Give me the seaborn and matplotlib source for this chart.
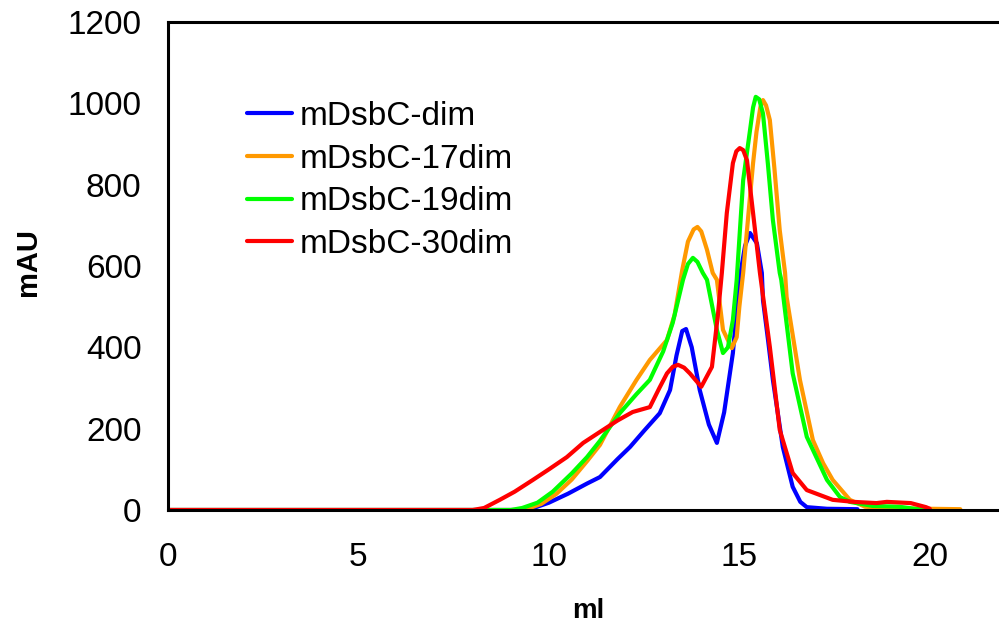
import matplotlib
matplotlib.use("Agg")
import matplotlib.pyplot as plt
import seaborn as sns
import pandas as pd

# ---- data ----
dim_x = [0, 9.3, 9.6, 10.0, 10.5, 11.0, 11.34, 11.8, 12.13, 12.5, 12.91, 13.18, 13.35, 13.5, 13.6, 13.75,
         13.96, 14.2, 14.41, 14.6, 14.83, 15.0, 15.15, 15.28, 15.46, 15.59, 15.62, 15.75, 15.88,
         16.14, 16.4, 16.6, 16.77, 17.3, 18.1]
dim_y = [0, 0, 5, 18, 40, 65, 81, 125, 155, 195, 238, 295, 380, 440, 445, 400,
         295, 210, 165, 240, 386, 566, 650, 681, 656, 583, 516, 420, 320,
         155, 57, 20, 7, 3, 2]

d17_x = [0, 9.2, 9.5, 9.8, 10.2, 10.6, 11.0, 11.34, 11.86, 12.3, 12.65, 13.1, 13.3, 13.5, 13.65, 13.8,
         13.9, 14.0, 14.15, 14.3, 14.41, 14.57, 14.8, 14.93, 15.0, 15.1, 15.25, 15.36, 15.45, 15.55,
         15.62, 15.7, 15.8, 15.92, 16.06, 16.2, 16.24, 16.59, 16.93, 17.2, 17.45, 17.9, 18.3, 19.0,
         20.0, 20.8]
d17_y = [0, 0, 5, 15, 40, 75, 120, 160, 253, 320, 369, 418, 480, 590, 660, 690,
         696, 685, 640, 583, 566, 443, 398, 425, 500, 583, 740, 853, 930, 990,
         1008, 995, 959, 840, 688, 583, 524, 320, 172, 115, 74, 25, 8, 4,
         3, 2]

d19_x = [0, 9.0, 9.3, 9.7, 10.1, 10.6, 11.0, 11.34, 11.86, 12.3, 12.65, 13.0, 13.25, 13.52, 13.65,
         13.78, 13.9, 14.04, 14.15, 14.41, 14.57, 14.7, 14.83, 14.93, 15.1, 15.28, 15.36, 15.43,
         15.52, 15.62, 15.75, 15.88, 16.06, 16.1, 16.4, 16.77, 17.3, 17.64, 17.9, 18.5, 19.2,
         19.6, 20.0]
d19_y = [0, 0, 5, 18, 45, 90, 130, 170, 238, 285, 320, 390, 460, 566, 605,
         620, 610, 583, 566, 443, 386, 400, 467, 566, 811, 934, 990, 1016,
         1010, 975, 850, 713, 583, 566, 336, 180, 74, 32, 20, 10, 8,
         3, 0]

d30_x = [0, 8.0, 8.3, 8.71, 9.1, 9.58, 10.0, 10.47, 10.9, 11.34, 11.8, 12.2, 12.65, 12.9, 13.1, 13.25,
         13.39, 13.55, 13.7, 14.0, 14.28, 14.44, 14.54, 14.67, 14.83, 14.92, 15.01, 15.1, 15.2,
         15.36, 15.54, 15.8, 16.06, 16.4, 16.77, 17.45, 18.0, 18.6, 18.87, 19.5, 19.9, 20.0]
d30_y = [0, 0, 5, 25, 45, 74, 100, 130, 165, 192, 220, 241, 253, 300, 336, 352,
         357, 350, 336, 303, 352, 483, 583, 730, 853, 882, 890, 885, 860,
         730, 583, 401, 197, 91, 49, 25, 20, 17, 20, 17, 7, 3]

series_names = ["mDsbC-dim", "mDsbC-17dim", "mDsbC-19dim", "mDsbC-30dim"]
colors = ["#0000FF", "#FF9900", "#00FF00", "#FF0000"]
x_ticks = [0, 5, 10, 15, 20]
y_ticks = [0, 200, 400, 600, 800, 1000, 1200]

frames = []
for name, xs, ys in zip(series_names, [dim_x, d17_x, d19_x, d30_x], [dim_y, d17_y, d19_y, d30_y]):
    frames.append(pd.DataFrame({"ml": xs, "mAU": ys, "series": name}))
df = pd.concat(frames, ignore_index=True)

sns.set_style("white")
plt.rcParams["font.family"] = ["Liberation Sans", "DejaVu Sans"]
plt.rcParams["text.color"] = "black"
plt.rcParams["axes.labelcolor"] = "black"

fig = plt.figure(figsize=(9.99, 6.33), dpi=100)
ax = fig.add_axes([168 / 999, 123 / 633, 838 / 999, 488 / 633])

sns.lineplot(data=df, x="ml", y="mAU", hue="series", hue_order=series_names,
             palette=dict(zip(series_names, colors)), sort=False, estimator=None,
             linewidth=3, ax=ax)

ax.set_xlim(0, 22)
ax.set_ylim(0, 1200)
ax.set_xticks(x_ticks)
ax.set_yticks(y_ticks)
ax.tick_params(axis="both", direction="out", length=7, width=1.2, color="#808080",
               labelsize=24, labelcolor="black")
ax.tick_params(axis="x", pad=16)
ax.tick_params(axis="y", pad=12)

for side in ["left", "bottom", "top", "right"]:
    ax.spines[side].set_visible(True)
    ax.spines[side].set_color("black")
    ax.spines[side].set_linewidth(2.2)

ax.set_xlabel("ml", fontsize=20, fontweight="bold", color="black")
ax.set_ylabel("mAU", fontsize=21, fontweight="bold", color="black")
ax.xaxis.set_label_coords((588 - 168) / 838, -(598 - 510) / 488)
ax.yaxis.set_label_coords(-(168 - 42) / 838, (510 - 262) / 488)

leg = ax.legend(loc="upper left", bbox_to_anchor=((247 - 168) / 838, (510 - 101) / 488),
                frameon=False, fontsize=24, handlelength=1.35, handletextpad=0.24,
                labelspacing=0.35, borderaxespad=0, borderpad=0)
for line in leg.get_lines():
    line.set_linewidth(3)
for t in leg.get_texts():
    t.set_color("black")

fig.savefig("out.png", dpi=100)
